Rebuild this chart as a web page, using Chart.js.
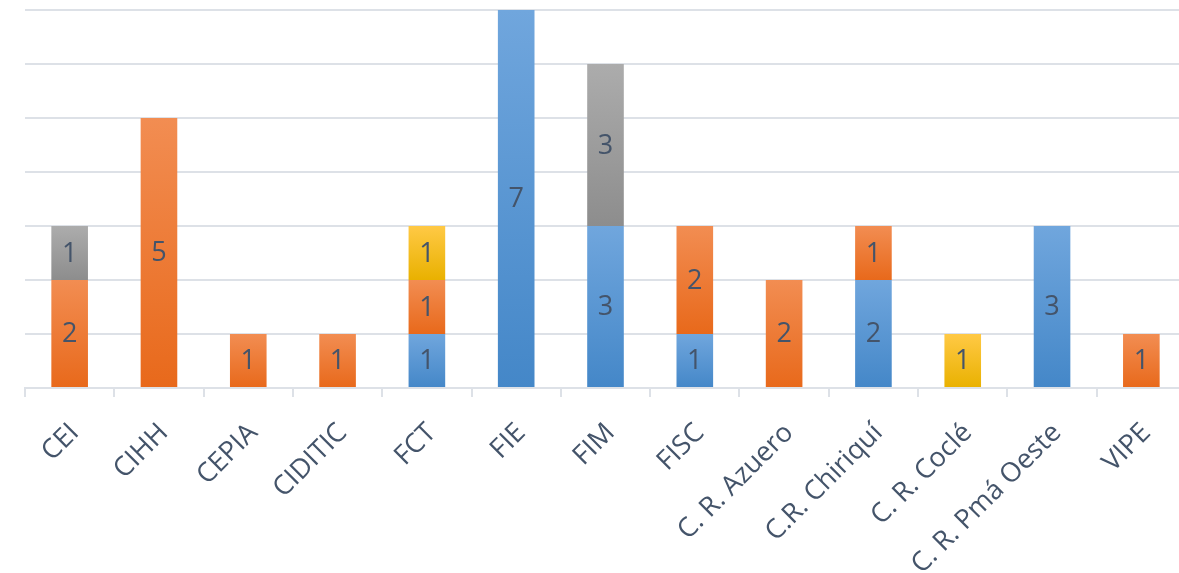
<!DOCTYPE html>
<html>
<head>
<meta charset="utf-8">
<script src="https://cdn.jsdelivr.net/npm/chart.js@4/dist/chart.umd.min.js"></script>
<style>
  html, body { margin: 0; padding: 0; background: #fff; overflow: hidden; }
  #wrap { width: 1186px; height: 573px; }
</style>
</head>
<body>
<div id="wrap"><canvas id="chart"></canvas></div>
<script>
const categories = ['CEI', 'CIHH', 'CEPIA', 'CIDITIC', 'FCT', 'FIE', 'FIM', 'FISC',
  'C. R. Azuero', 'C.R. Chiriquí', 'C. R. Coclé', 'C. R. Pmá Oeste', 'VIPE'];
const blueValues   = [0, 0, 0, 0, 1, 7, 3, 1, 0, 2, 0, 3, 0];
const orangeValues = [2, 5, 1, 1, 1, 0, 0, 2, 2, 1, 0, 0, 1];
const grayValues   = [1, 0, 0, 0, 0, 0, 3, 0, 0, 0, 0, 0, 0];
const yellowValues = [0, 0, 0, 0, 1, 0, 0, 0, 0, 0, 1, 0, 0];

const textColour = '#44546A';
const gridColour = '#DDE1E7';

// top / bottom shade for each series
const shades = [
  ['#70A6DD', '#4487C8'],
  ['#F28D52', '#E8691B'],
  ['#ACACAC', '#8D8D8D'],
  ['#FFC945', '#E9B100']
];

function gradientFill(context) {
  const chart = context.chart;
  const area = chart.chartArea;
  const pair = shades[context.datasetIndex];
  if (!area || context.type !== 'data') return pair[1];
  const i = context.dataIndex;
  let base = 0;
  for (let d = 0; d < context.datasetIndex; d++) base += chart.data.datasets[d].data[i] || 0;
  const top = base + (chart.data.datasets[context.datasetIndex].data[i] || 0);
  const y = chart.scales.y;
  const y0 = y.getPixelForValue(top);
  const y1 = y.getPixelForValue(base);
  if (y1 - y0 < 1) return pair[1];
  const g = chart.ctx.createLinearGradient(0, y0, 0, y1);
  g.addColorStop(0, pair[0]);
  g.addColorStop(1, pair[1]);
  return g;
}

const valueLabels = {
  id: 'valueLabels',
  afterDatasetsDraw(chart) {
    const ctx = chart.ctx;
    ctx.save();
    ctx.font = '27px "Open Sans"';
    ctx.fillStyle = textColour;
    ctx.textAlign = 'center';
    ctx.textBaseline = 'middle';
    chart.data.datasets.forEach((ds, d) => {
      chart.getDatasetMeta(d).data.forEach((bar, i) => {
        const v = ds.data[i];
        if (!v) return;
        ctx.fillText(v, bar.x, (bar.y + bar.base) / 2 + 1);
      });
    });
    ctx.restore();
  }
};

Chart.defaults.font.family = '"Open Sans", sans-serif';
Chart.defaults.color = textColour;

new Chart(document.getElementById('chart'), {
  type: 'bar',
  data: {
    labels: categories,
    datasets: [
      { label: 'Azul', data: blueValues },
      { label: 'Naranja', data: orangeValues },
      { label: 'Gris', data: grayValues },
      { label: 'Amarillo', data: yellowValues }
    ].map(ds => Object.assign(ds, {
      backgroundColor: gradientFill,
      borderWidth: 0,
      categoryPercentage: 1,
      barPercentage: 0.41
    }))
  },
  options: {
    responsive: true,
    maintainAspectRatio: false,
    animation: false,
    layout: { padding: { top: 10, left: 0, right: 0, bottom: 0 } },
    plugins: {
      legend: { display: false },
      tooltip: { enabled: false }
    },
    scales: {
      x: {
        stacked: true,
        afterFit(scale) { scale.height = 185; },
        grid: {
          drawOnChartArea: false,
          color: gridColour,
          lineWidth: 2,
          tickLength: 9
        },
        border: { color: gridColour, width: 2 },
        ticks: {
          color: textColour,
          font: { size: 27 },
          minRotation: 45,
          maxRotation: 45,
          autoSkip: false,
          padding: 20,
          labelOffset: 5
        }
      },
      y: {
        stacked: true,
        min: 0,
        max: 7,
        afterFit(scale) { scale.width = 25; },
        grid: { color: gridColour, lineWidth: 2, drawTicks: false },
        border: { display: false },
        ticks: { display: false, stepSize: 1 }
      }
    }
  },
  plugins: [valueLabels]
});
</script>
</body>
</html>
